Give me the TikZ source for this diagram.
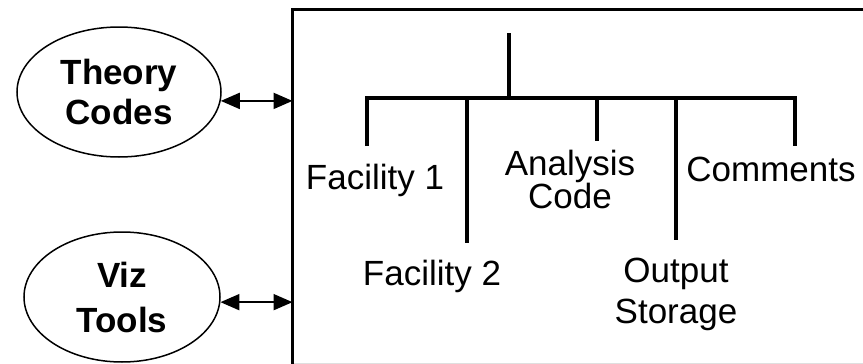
\documentclass[tikz,border=0pt]{standalone}
\usepackage{fontspec}
\setmainfont{Liberation Sans}
\usetikzlibrary{shapes.geometric,arrows.meta}
\begin{document}
\begin{tikzpicture}[x=1pt,y=-1pt,
  lbl/.style={inner sep=0pt, anchor=base, align=center},
  bub/.style={draw, line width=1.5pt, ellipse, inner sep=0pt, align=center},
  tree/.style={line width=4pt},
  link/.style={line width=2pt, {Triangle[length=19pt,width=16pt]}-{Triangle[length=19pt,width=16pt]}}]
\useasboundingbox (0,0) rectangle (863,364);
\clip (0,0) rectangle (863,364);

% main frame (runs past the right and bottom edges)
\node[draw, line width=3pt, outer sep=0pt, inner sep=0pt,
      minimum width=620pt, minimum height=420pt, anchor=north west] (box) at (292.5,9) {};
\draw[gray!25, line width=1pt] (294,363.5) -- (863,363.5);

% external tools
\node[bub, minimum width=204pt, minimum height=130pt,
      font=\bfseries\fontsize{35}{40}\selectfont] (theory) at (119,92) {Theory\\Codes};
\node[bub, minimum width=196pt, minimum height=130pt,
      font=\bfseries\fontsize{35}{45}\selectfont] (viz) at (122,297) {Viz\\Tools};

\draw[link] (theory.-5) -- (theory.-5 -| box.west);
\draw[link] (viz.-3) -- (viz.-3 -| box.west);

% tree inside the frame
\coordinate (top) at (509,33);
\coordinate (hub) at (509,98);
\coordinate (bl) at (367,98);
\coordinate (br) at (795,98);
\coordinate (b1) at (367,146);
\coordinate (b2t) at (467,98);
\coordinate (b2) at (467,243);
\coordinate (b3t) at (597,98);
\coordinate (b3) at (597,141);
\coordinate (b4t) at (676,98);
\coordinate (b4) at (676,240);
\coordinate (b5) at (795,146);

\draw[tree] (top) -- (hub);
\draw[tree] (b1) -- (bl) -- (br) -- (b5);
\draw[tree] (b2t) -- (b2);
\draw[tree] (b3t) -- (b3);
\draw[tree] (b4t) -- (b4);

% leaf labels (base anchor = baseline of the last line)
\node[lbl, font=\fontsize{35}{35}\selectfont] (f1) at (375,189) {Facility 1};
\node[lbl, font=\fontsize{35}{35}\selectfont] (f2) at (432,285) {Facility 2};
\node[lbl, font=\fontsize{35}{33}\selectfont] (ana) at (570,208) {Analysis\\Code};
\node[lbl, font=\fontsize{35}{41}\selectfont] (out) at (676,323) {Output\\Storage};
\node[lbl, font=\fontsize{35}{35}\selectfont] (com) at (771,181) {Comments};
\end{tikzpicture}
\end{document}
